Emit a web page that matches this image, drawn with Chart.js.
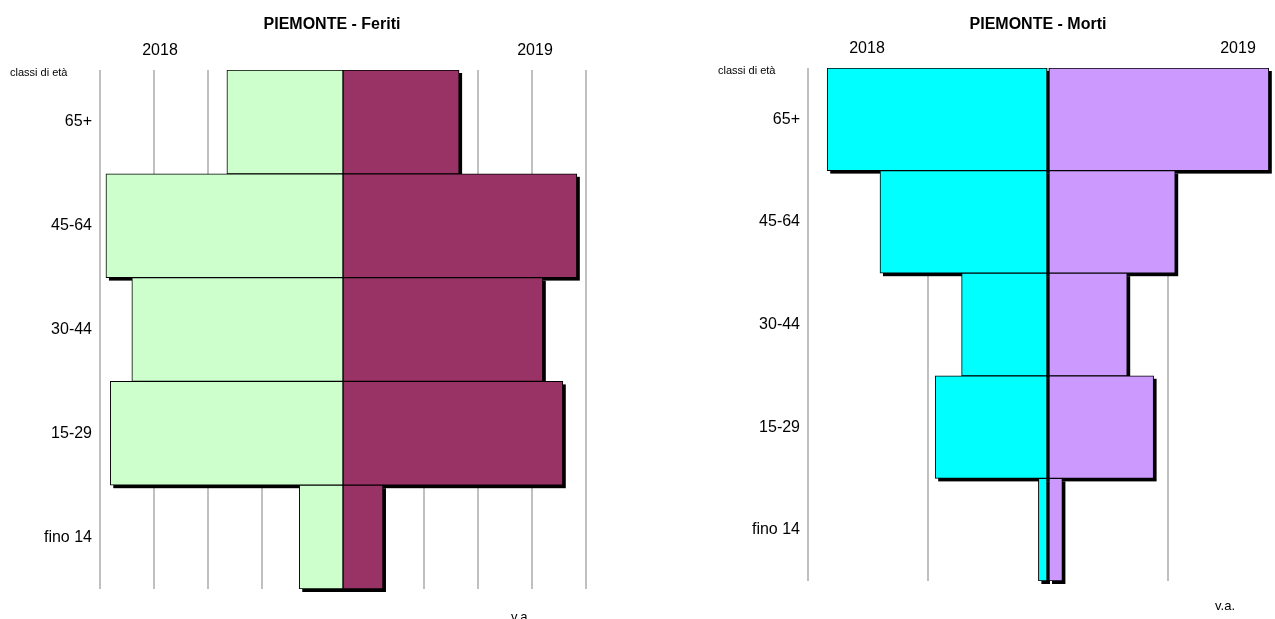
<!DOCTYPE html>
<html>
<head>
<meta charset="utf-8">
<script src="https://cdn.jsdelivr.net/npm/chart.js@4.4.0/dist/chart.umd.min.js"></script>
<style>
  html, body { margin: 0; padding: 0; background: #fff; overflow: hidden; }
  #wrap { position: relative; width: 1275px; height: 619px; overflow: hidden; }
  #feritiChart { position: absolute; left: 0; top: 0; }
  #mortiChart { position: absolute; left: 640px; top: 0; }
</style>
</head>
<body>
<div id="wrap">
  <canvas id="feritiChart" width="640" height="619"></canvas>
  <canvas id="mortiChart" width="660" height="619"></canvas>
</div>
<script>
// classi di età, dall'alto verso il basso
const categories = ["65+", "45-64", "30-44", "15-29", "fino 14"];

// feriti (valori assoluti)
const feriti2018 = [2150, 4390, 3910, 4310, 810];
const feriti2019 = [2150, 4330, 3700, 4070, 740];
const feritiGrid = [-4500, -3500, -2500, -1500, -500, 500, 1500, 2500, 3500, 4500];

// morti (valori assoluti)
const morti2018 = [92, 70, 36, 47, 4];
const morti2019 = [92, 53, 33, 44, 6];
const mortiGrid = [-100, -50, 0, 50, 100];

const FONT = "Arial, 'Liberation Sans', sans-serif";

// ombra nera sotto ogni barra
const shadowPlugin = {
  id: "barShadow",
  beforeDatasetsDraw(chart) {
    const ctx = chart.ctx;
    ctx.save();
    ctx.fillStyle = "#000";
    chart.data.datasets.forEach((ds, i) => {
      chart.getDatasetMeta(i).data.forEach(bar => {
        const p = bar.getProps(["x", "y", "base", "height"], true);
        const left = Math.min(p.x, p.base);
        const w = Math.abs(p.x - p.base);
        ctx.fillRect(left + 3, p.y - p.height / 2 + 3, w, p.height);
      });
    });
    ctx.restore();
  }
};

// testi: titolo, anni, "classi di età", "v.a."
const textPlugin = {
  id: "texts",
  afterDraw(chart) {
    const t = chart.options.plugins.texts;
    const ctx = chart.ctx;
    ctx.save();
    ctx.fillStyle = "#000";
    ctx.textBaseline = "middle";
    ctx.textAlign = "center";
    ctx.font = "bold 16px " + FONT;
    ctx.fillText(t.title, t.titleX, 25);
    ctx.font = "16px " + FONT;
    ctx.fillText("2018", t.y1X, t.yearY);
    ctx.fillText("2019", t.y2X, t.yearY);
    ctx.font = "13px " + FONT;
    ctx.fillText("v.a.", t.vaX, t.vaY);
    ctx.textAlign = "left";
    ctx.font = "11px " + FONT;
    ctx.fillText("classi di età", t.classiX, t.classiY);
    ctx.restore();
  }
};

function makePyramid(canvasId, left, right, gridValues, colors, axisWidth, pad, texts) {
  const min = gridValues[0];
  const max = gridValues[gridValues.length - 1];
  return new Chart(document.getElementById(canvasId).getContext("2d"), {
    type: "bar",
    data: {
      labels: categories,
      datasets: [
        {
          label: "2018",
          data: left.map(v => -v),
          backgroundColor: colors[0],
          borderColor: "#000",
          borderWidth: 1,
          borderSkipped: false,
          barPercentage: 1,
          categoryPercentage: 1
        },
        {
          label: "2019",
          data: right,
          backgroundColor: colors[1],
          borderColor: "#000",
          borderWidth: 1,
          borderSkipped: false,
          barPercentage: 1,
          categoryPercentage: 1
        }
      ]
    },
    options: {
      indexAxis: "y",
      responsive: false,
      animation: false,
      layout: { padding: pad },
      scales: {
        x: {
          stacked: true,
          min: min,
          max: max,
          afterBuildTicks(scale) {
            scale.ticks = gridValues.map(v => ({ value: v }));
          },
          afterFit(scale) { scale.height = 0; },
          ticks: { display: false },
          border: { display: false },
          grid: { color: "#c0c0c0", lineWidth: 2, drawTicks: false }
        },
        y: {
          stacked: true,
          afterFit(scale) { scale.width = axisWidth; },
          ticks: { color: "#000", font: { family: FONT, size: 16 }, padding: 8 },
          border: { display: false },
          grid: { display: false, drawTicks: false }
        }
      },
      plugins: {
        legend: { display: false },
        tooltip: { enabled: false },
        texts: texts
      }
    },
    plugins: [shadowPlugin, textPlugin]
  });
}

makePyramid("feritiChart", feriti2018, feriti2019, feritiGrid,
  ["#CCFFCC", "#993366"], 100,
  { left: 0, right: 54, top: 70, bottom: 30 },
  { title: "PIEMONTE - Feriti", titleX: 332, y1X: 160, y2X: 535, yearY: 51,
    vaX: 521, vaY: 617, classiX: 10, classiY: 73 });

makePyramid("mortiChart", morti2018, morti2019, mortiGrid,
  ["#00FFFF", "#CC99FF"], 168,
  { left: 0, right: 12, top: 68, bottom: 38 },
  { title: "PIEMONTE - Morti", titleX: 398, y1X: 227, y2X: 598, yearY: 49,
    vaX: 585, vaY: 606, classiX: 78, classiY: 71 });
</script>
</body>
</html>
